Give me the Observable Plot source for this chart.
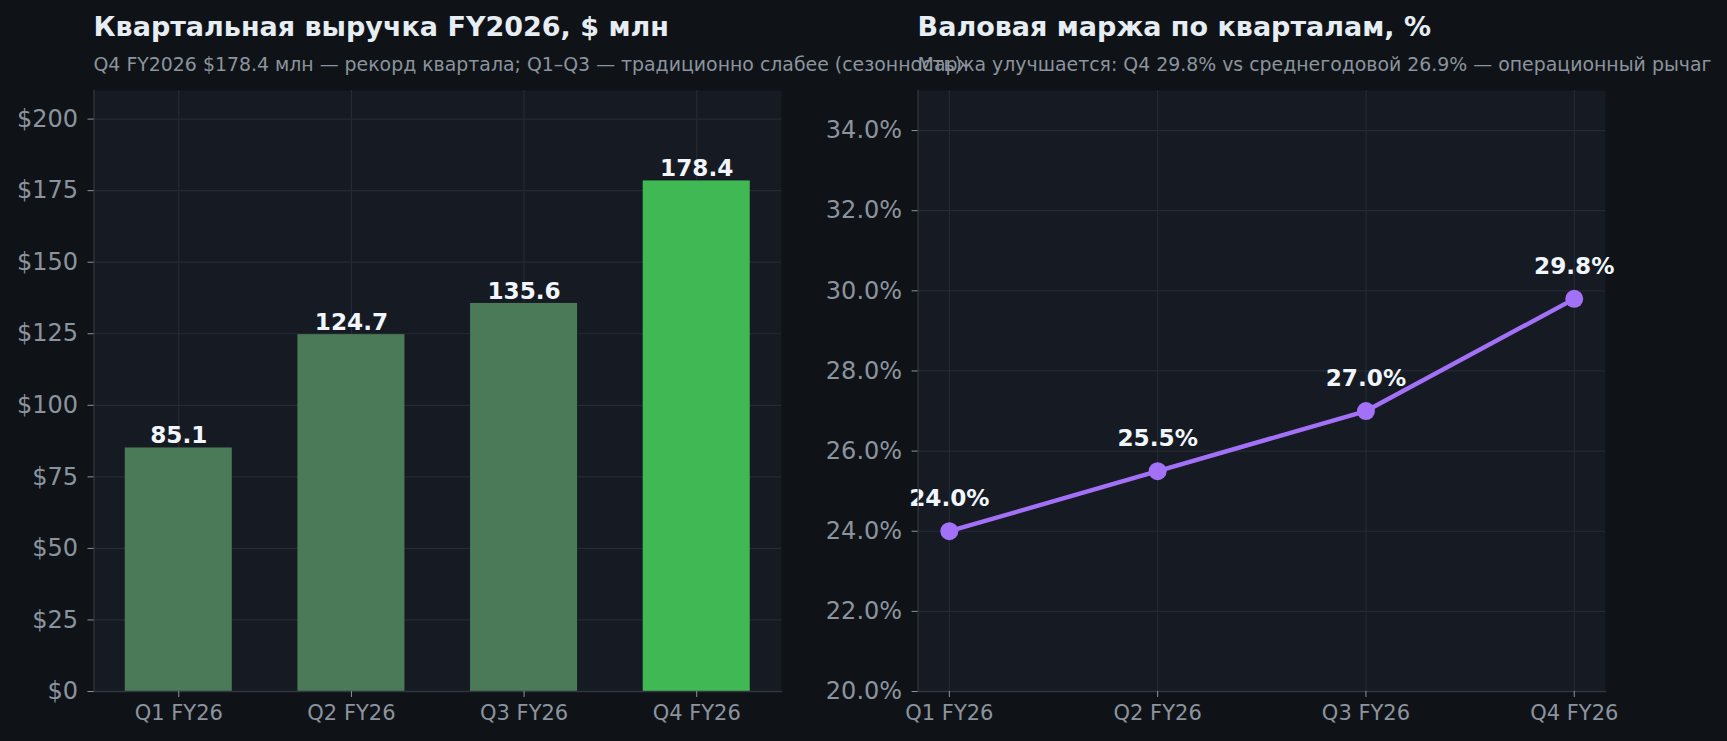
<!DOCTYPE html>
<html>
<head>
<meta charset="utf-8">
<script src="https://cdn.jsdelivr.net/npm/d3@7"></script>
<script src="https://cdn.jsdelivr.net/npm/@observablehq/plot@0.6"></script>
<style>
  html, body { margin: 0; padding: 0; background: #0f1317; }
  #root { position: relative; width: 1727px; height: 741px; overflow: hidden; background: #0f1317; font-family: "DejaVu Sans", sans-serif; }
  .title { position: absolute; font-size: 27px; font-weight: bold; color: #e6edf3; line-height: 27px; white-space: nowrap; }
  .sub { position: absolute; font-size: 18.9px; color: #8b949e; line-height: 18.9px; white-space: nowrap; }
  .panel { position: absolute; top: 0; }
</style>
</head>
<body>
<div id="root">
  <div id="left" class="panel" style="left:0px"></div>
  <div id="right" class="panel" style="left:800px"></div>
  <div class="title" style="left:93.5px; top:12.9px">Квартальная выручка FY2026, $ млн</div>
  <div class="sub" style="left:93.5px; top:54.7px">Q4 FY2026 $178.4 млн — рекорд квартала; Q1–Q3 — традиционно слабее (сезонность)</div>
  <div class="title" style="left:917.6px; top:12.9px">Валовая маржа по кварталам, %</div>
  <div class="sub" style="left:917.6px; top:54.7px">Маржа улучшается: Q4 29.8% vs среднегодовой 26.9% — операционный рычаг</div>
</div>
<script>
const quarters = ["Q1 FY26", "Q2 FY26", "Q3 FY26", "Q4 FY26"];
const revenue = [85.1, 124.7, 135.6, 178.4];
const grossMargin = [24.0, 25.5, 27.0, 29.8];
const revenueTicks = [0, 25, 50, 75, 100, 125, 150, 175, 200];
const marginTicks = [20, 22, 24, 26, 28, 30, 32, 34];
const highlightQuarter = "Q4 FY26";

const BG_PLOT = "#161a22";
const GRID = "#252a33";
const SPINE = "#30363d";
const TICK = "#8b949e";
const LABEL = "#f0f6fc";
const MUTED = "#4a7a58";
const HIGH = "#40b955";
const PURPLE = "#a371f7";

const revData = quarters.map((q, i) => ({q, v: revenue[i]}));
const marData = quarters.map((q, i) => ({q, v: grossMargin[i]}));

const font = {fontFamily: "DejaVu Sans", background: "transparent", overflow: "visible"};

const left = Plot.plot({
  width: 820, height: 741,
  marginLeft: 93.5, marginRight: 39, marginTop: 90, marginBottom: 50,
  style: font,
  x: {type: "band", domain: quarters, paddingInner: 0.38, paddingOuter: 0.181, round: false, axis: null},
  y: {domain: [0, 210], axis: null},
  marks: [
    Plot.frame({fill: BG_PLOT, stroke: null}),
    Plot.gridY(revenueTicks, {stroke: GRID, strokeOpacity: 1, strokeWidth: 1.2}),
    Plot.gridX(quarters, {stroke: GRID, strokeOpacity: 1, strokeWidth: 1.2}),
    Plot.barY(revData, {x: "q", y: "v", fill: d => d.q === highlightQuarter ? HIGH : MUTED, insetLeft: 0, insetRight: 0}),
    Plot.text(revData, {x: "q", y: "v", text: d => d.v.toFixed(1), lineAnchor: "bottom", dy: -4.7, fill: LABEL, fontSize: 23.2, fontWeight: "bold"}),
    Plot.frame({anchor: "left", stroke: SPINE, strokeWidth: 1.3}),
    Plot.frame({anchor: "bottom", stroke: SPINE, strokeWidth: 1.3}),
    Plot.axisY({ticks: revenueTicks, tickFormat: d => "$" + d, tickSize: 6, tickPadding: 10, fontSize: 24, color: TICK, stroke: TICK, fill: TICK, label: null}),
    Plot.axisX({tickSize: 6, tickPadding: 8, fontSize: 21, color: TICK, stroke: TICK, fill: TICK, label: null})
  ]
});
document.getElementById("left").appendChild(left);

const right = Plot.plot({
  width: 927, height: 741,
  marginLeft: 117.6, marginRight: 122, marginTop: 90, marginBottom: 50,
  style: font,
  x: {type: "point", domain: quarters, padding: 0.15, round: false, axis: null},
  y: {domain: [20, 35], axis: null},
  marks: [
    Plot.frame({fill: BG_PLOT, stroke: null}),
    Plot.gridY(marginTicks, {stroke: GRID, strokeOpacity: 1, strokeWidth: 1.2}),
    Plot.gridX(quarters, {stroke: GRID, strokeOpacity: 1, strokeWidth: 1.2}),
    Plot.line(marData, {x: "q", y: "v", stroke: PURPLE, strokeWidth: 4.4}),
    Plot.dot(marData, {x: "q", y: "v", r: 9, fill: PURPLE, stroke: null}),
    Plot.text(marData, {x: "q", y: "v", text: d => d.v.toFixed(1) + "%", lineAnchor: "bottom", dy: -25, fill: LABEL, fontSize: 23.2, fontWeight: "bold"}),
    Plot.frame({anchor: "left", stroke: SPINE, strokeWidth: 1.3}),
    Plot.frame({anchor: "bottom", stroke: SPINE, strokeWidth: 1.3}),
    Plot.axisY({ticks: marginTicks, tickFormat: d => d.toFixed(1) + "%", tickSize: 6, tickPadding: 10, fontSize: 24, color: TICK, stroke: TICK, fill: TICK, label: null}),
    Plot.axisX({tickSize: 6, tickPadding: 8, fontSize: 21, color: TICK, stroke: TICK, fill: TICK, label: null})
  ]
});
document.getElementById("right").appendChild(right);
</script>
</body>
</html>
